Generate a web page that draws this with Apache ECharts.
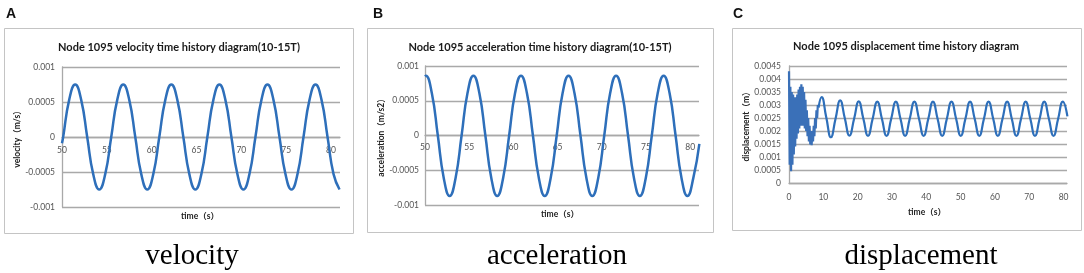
<!DOCTYPE html>
<html>
<head>
<meta charset="utf-8">
<title>Node 1095 time history</title>
<script src="https://cdn.jsdelivr.net/npm/echarts@6/dist/echarts.min.js"></script>
<style>
  html, body { margin: 0; padding: 0; background: #fff; }
  #main { width: 1084px; height: 273px; }
</style>
</head>
<body>
<div id="main"></div>
<script>
// 速度 (A)
var velTime = [50, 50.13, 50.80, 51.47, 52.14, 52.81, 53.48, 54.15, 54.82, 55.49, 56.16, 56.83, 57.50,
  58.17, 58.84, 59.51, 60.18, 60.85, 61.52, 62.19, 62.86, 63.53, 64.20, 64.87, 65.54, 66.21, 66.88,
  67.55, 68.22, 68.89, 69.56, 70.23, 70.90, 71.57, 72.24, 72.91, 73.58, 74.25, 74.92, 75.59, 76.26,
  76.93, 77.60, 78.27, 78.94, 79.61, 80.28, 80.95];
var velValue = [-0.00009,
  0, 0.00053, 0.00075, 0.00053, 0, -0.00053, -0.00075, -0.00053,
  0, 0.00053, 0.00075, 0.00053, 0, -0.00053, -0.00075, -0.00053,
  0, 0.00053, 0.00075, 0.00053, 0, -0.00053, -0.00075, -0.00053,
  0, 0.00053, 0.00075, 0.00053, 0, -0.00053, -0.00075, -0.00053,
  0, 0.00053, 0.00075, 0.00053, 0, -0.00053, -0.00075, -0.00053,
  0, 0.00053, 0.00075, 0.00053, 0, -0.00053, -0.00075];

// 加速度 (B)
var accTime = [50, 50.10, 50.77, 51.45, 52.12, 52.79, 53.46, 54.14, 54.81, 55.48, 56.15, 56.83, 57.50,
  58.17, 58.84, 59.52, 60.19, 60.86, 61.53, 62.21, 62.88, 63.55, 64.22, 64.90, 65.57, 66.24, 66.91,
  67.59, 68.26, 68.93, 69.60, 70.28, 70.95, 71.62, 72.29, 72.97, 73.64, 74.31, 74.98, 75.66, 76.33,
  77.00, 77.67, 78.35, 79.02, 79.69, 80.36, 81.04];
var accValue = [0.00085,
  0.00086, 0.00061, 0, -0.00061, -0.00087, -0.00061, 0, 0.00061,
  0.00086, 0.00061, 0, -0.00061, -0.00087, -0.00061, 0, 0.00061,
  0.00086, 0.00061, 0, -0.00061, -0.00087, -0.00061, 0, 0.00061,
  0.00086, 0.00061, 0, -0.00061, -0.00087, -0.00061, 0, 0.00061,
  0.00086, 0.00061, 0, -0.00061, -0.00087, -0.00061, 0, 0.00061,
  0.00086, 0.00061, 0, -0.00061, -0.00087, -0.00061, -0.00012];

// 位移 (C) 前段高频振荡
var dispBurstTime = [0, 0.2, 0.4, 0.6, 0.8, 1.0, 1.2, 1.4, 1.6, 1.8, 2.0, 2.2, 2.4, 2.6, 2.8, 3.0,
  3.2, 3.4, 3.6, 3.8, 4.0, 4.2, 4.4, 4.6, 4.8, 5.0, 5.2, 5.4, 5.6, 5.8, 6.0, 6.2, 6.4, 6.6, 6.8,
  7.0, 7.2, 7.4, 7.6, 7.8, 8.0, 8.2, 8.4, 8.6];
var dispBurstValue = [0.0043, 0.0007, 0.0037, 0.00045, 0.0035, 0.0007, 0.0034, 0.0011, 0.0033, 0.0014,
  0.0033, 0.0017, 0.0034, 0.0019, 0.0036, 0.0021, 0.0037, 0.0022, 0.0038, 0.0022, 0.0037, 0.0022,
  0.0035, 0.0021, 0.0032, 0.0020, 0.0028, 0.0018, 0.0025, 0.0016, 0.0022, 0.00148, 0.0020, 0.00145,
  0.0020, 0.0016, 0.0022, 0.0018, 0.0025, 0.0021, 0.0028, 0.0025, 0.0030, 0.0029];
// 位移 (C) 稳定段
var dispTime = [8.6, 9.50, 10.85, 12.20, 13.56, 14.91, 16.26, 17.61, 18.97, 20.32, 21.67, 23.02, 24.37,
  25.72, 27.07, 28.42, 29.78, 31.13, 32.48, 33.83, 35.18, 36.53, 37.88, 39.23, 40.59, 41.94, 43.29,
  44.64, 45.99, 47.34, 48.69, 50.04, 51.40, 52.75, 54.10, 55.45, 56.80, 58.15, 59.50, 60.85, 62.21,
  63.56, 64.91, 66.26, 67.61, 68.96, 70.31, 71.66, 73.02, 74.37, 75.72, 77.07, 78.42, 79.77, 81.12];
var dispValue = [0.0029, 0.0033, 0.00253, 0.00176, 0.00247, 0.00318, 0.00249, 0.00182, 0.00247,
  0.00314, 0.00247, 0.00181, 0.00247, 0.00313, 0.00247, 0.00181, 0.00247, 0.00313, 0.00247,
  0.00181, 0.00247, 0.00313, 0.00247, 0.00181, 0.00247, 0.00313, 0.00247, 0.00181, 0.00247,
  0.00313, 0.00247, 0.00181, 0.00247, 0.00313, 0.00247, 0.00181, 0.00247, 0.00313, 0.00247,
  0.00181, 0.00247, 0.00313, 0.00247, 0.00181, 0.00247, 0.00313, 0.00247, 0.00181, 0.00247,
  0.00313, 0.00247, 0.00181, 0.00247, 0.00313, 0.00256];

var titles = ['Node 1095 velocity time history diagram(10-15T)',
  'Node 1095 acceleration time history diagram(10-15T)',
  'Node 1095 displacement time history diagram'];
var captions = ['velocity', 'acceleration', 'displacement'];
var yNames = ['velocity（m/s）', 'acceleration（m/s2）', 'displacement（m）'];
var xName = 'time（s）';

function pairs(t, v) {
  var out = [];
  for (var i = 0; i < t.length; i++) {
    out.push([t[i], v[i]]);
  }
  return out;
}

var gridColor = '#a9a9a9';
var lineColor = '#2e6fba';
var labelFont = 'Lato, "Noto Sans CJK SC", sans-serif';

// offset 把 x 轴移到 0 的位置 (onZero 在这里不生效)
function xAxisOf(idx, min, max, step, margin, offset) {
  return {
    type: 'value', gridIndex: idx, min: min, max: max, interval: step,
    offset: offset,
    axisLine: { onZero: false, lineStyle: { color: gridColor, width: 1.3 } },
    axisTick: { show: false },
    splitLine: { show: false },
    axisLabel: {
      margin: margin, fontSize: 8.5, color: '#555', fontFamily: labelFont,
      formatter: function (v) { return v % step === 0 ? v : ''; }
    }
  };
}

function yAxisOf(idx, min, max, step, name, gap, margin) {
  return {
    type: 'value', gridIndex: idx, min: min, max: max, interval: step,
    name: name, nameLocation: 'middle', nameGap: gap, nameRotate: 90,
    nameTextStyle: { fontSize: 8.5, fontWeight: 'bold', color: '#222', fontFamily: labelFont },
    axisLine: { show: true, lineStyle: { color: gridColor, width: 1.3 } },
    axisTick: { show: false },
    splitLine: { lineStyle: { color: gridColor, width: 1.3 } },
    axisLabel: { margin: margin, fontSize: 8.5, color: '#555', fontFamily: labelFont }
  };
}

var myChart = echarts.init(document.getElementById('main'));

var boxes = [[4.5, 28.5, 349, 205], [367.5, 28.5, 346, 204], [732.5, 28.5, 349, 202]];
var letters = [['A', 6], ['B', 373], ['C', 733]];
var titlePos = [[179, 47], [540, 47], [906, 46]];
var xNamePos = [[200, 216], [560, 214], [927, 212]];
var captionPos = [[192, 256], [557, 256], [921, 256]];

var graphics = [];
for (var i = 0; i < 3; i++) {
  graphics.push({
    type: 'rect', silent: true,
    shape: { x: boxes[i][0], y: boxes[i][1], width: boxes[i][2], height: boxes[i][3] },
    style: { fill: 'none', stroke: '#c4c4c4', lineWidth: 1 }
  });
  graphics.push({
    type: 'text', x: letters[i][1], y: 7,
    style: { text: letters[i][0], font: 'bold 14px "Liberation Sans", Arial, sans-serif', fill: '#111' }
  });
  graphics.push({
    type: 'text', x: titlePos[i][0], y: titlePos[i][1],
    style: { text: titles[i], font: 'bold 11px ' + labelFont, fill: '#1a1a1a', align: 'center', verticalAlign: 'middle' }
  });
  graphics.push({
    type: 'text', x: xNamePos[i][0], y: xNamePos[i][1],
    style: { text: xName, font: 'bold 8.5px ' + labelFont, fill: '#222', align: 'center', verticalAlign: 'middle' }
  });
  graphics.push({
    type: 'text', x: captionPos[i][0], y: captionPos[i][1],
    style: { text: captions[i], font: '29px "Liberation Serif", "Times New Roman", serif', fill: '#000', align: 'center', verticalAlign: 'middle' }
  });
}

var option = {
  animation: false,
  backgroundColor: '#fff',
  grid: [
    { left: 62, top: 67, width: 278, height: 140, outerBoundsMode: 'none' },
    { left: 425, top: 66, width: 274, height: 139, outerBoundsMode: 'none' },
    { left: 789, top: 66, width: 278, height: 117, outerBoundsMode: 'none' }
  ],
  xAxis: [
    xAxisOf(0, 50, 81, 5, 9, -70),
    xAxisOf(1, 50, 81, 5, 8, -69.5),
    xAxisOf(2, 0, 81, 10, 10, 0)
  ],
  yAxis: [
    yAxisOf(0, -0.001, 0.001, 0.0005, yNames[0], 36, 7),
    yAxisOf(1, -0.001, 0.001, 0.0005, yNames[1], 37, 6),
    yAxisOf(2, 0, 0.0045, 0.0005, yNames[2], 36, 8)
  ],
  series: [
    {
      type: 'line', xAxisIndex: 0, yAxisIndex: 0, showSymbol: false, smooth: 0.5,
      lineStyle: { color: lineColor, width: 2.5 },
      data: pairs(velTime, velValue)
    },
    {
      type: 'line', xAxisIndex: 1, yAxisIndex: 1, showSymbol: false, smooth: 0.5,
      lineStyle: { color: lineColor, width: 2.5 },
      data: pairs(accTime, accValue)
    },
    {
      // 前段折线不做平滑, 保持密集振荡
      type: 'line', xAxisIndex: 2, yAxisIndex: 2, showSymbol: false, smooth: false,
      lineStyle: { color: '#3a70b8', width: 2.2 },
      data: pairs(dispBurstTime, dispBurstValue)
    },
    {
      type: 'line', xAxisIndex: 2, yAxisIndex: 2, showSymbol: false, smooth: 0.5,
      lineStyle: { color: lineColor, width: 2.2 },
      data: pairs(dispTime, dispValue)
    }
  ],
  graphic: graphics
};

myChart.setOption(option);
</script>
</body>
</html>
